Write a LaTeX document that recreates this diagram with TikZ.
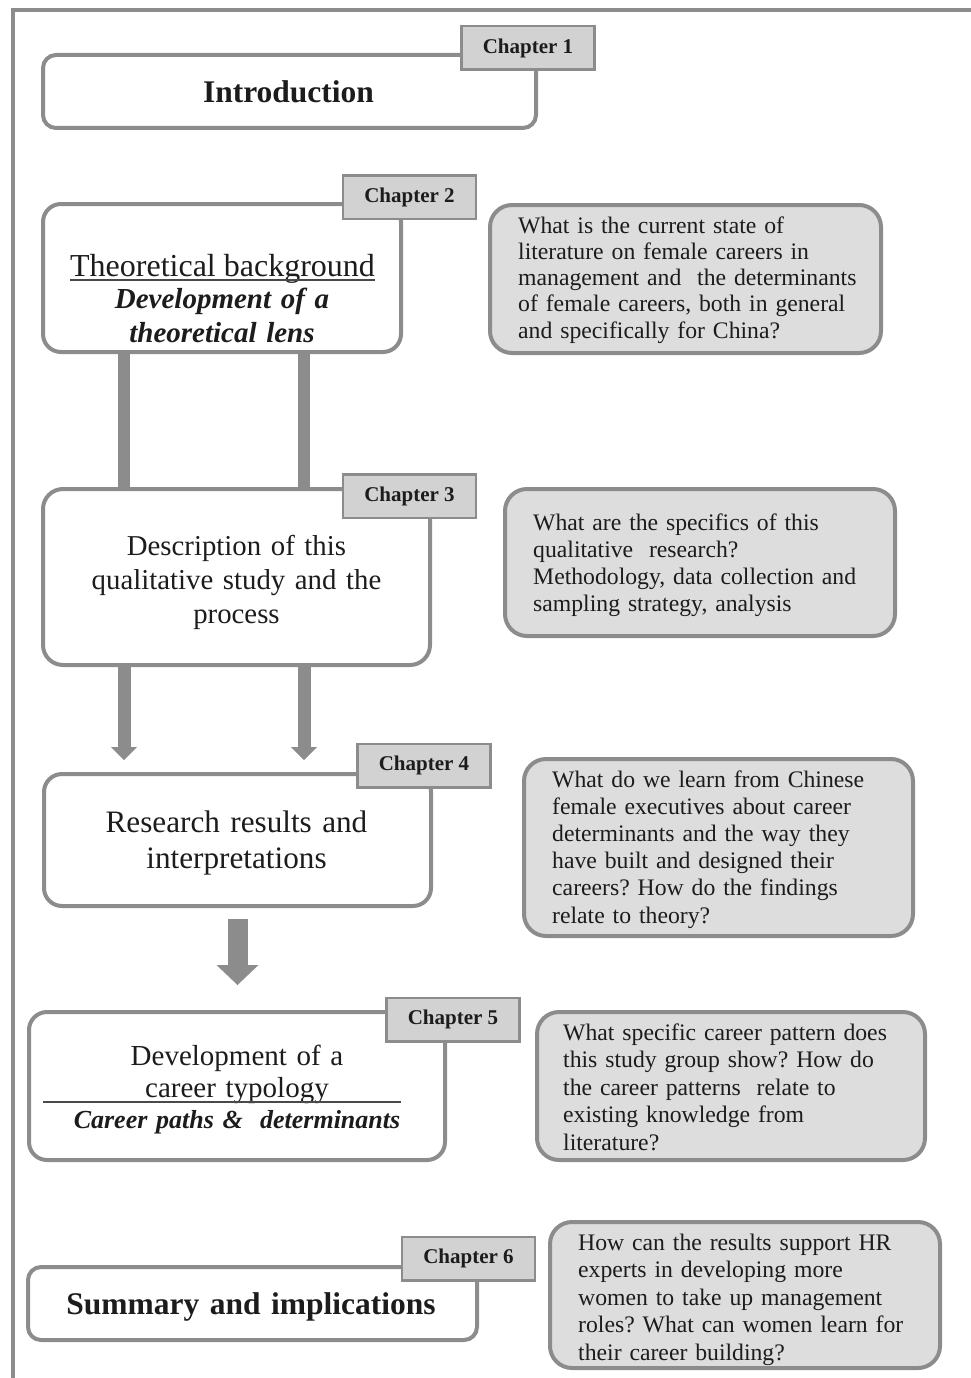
\documentclass[tikz,border=0pt]{standalone}
\usepackage{fontspec}
\setmainfont{Liberation Serif}
\usetikzlibrary{arrows.meta}
\definecolor{linegray}{HTML}{8C8C8C}
\definecolor{labelfill}{HTML}{D2D2D2}
\definecolor{qfill}{HTML}{DDDDDD}
\definecolor{ink}{HTML}{1C1C1C}
\frenchspacing
\tikzset{
  chapbox/.style={draw=linegray, line width=4pt, fill=white, rounded corners=18pt, inner sep=0pt},
  qbox/.style={draw=linegray, line width=4pt, fill=qfill, rounded corners=22pt, inner sep=0pt},
  chaplabel/.style={draw=linegray, line width=2.5pt, fill=labelfill, inner sep=0pt,
    minimum width=133pt, minimum height=43.5pt, text=ink,
    font=\fontsize{21}{24}\selectfont\bfseries},
  qtext/.style={anchor=base west, inner sep=0pt, text width=380pt, align=left, text=ink},
  maintext/.style={anchor=base, inner sep=0pt, text width=420pt, align=center, text=ink},
  frameline/.style={draw=linegray, line width=4.5pt},
  bar/.style={draw=linegray, line width=12pt},
  smallarrow/.style={draw=linegray, line width=13pt,
    -{Triangle[width=26pt,length=13pt,line width=0pt]}},
  bigarrow/.style={draw=linegray, line width=20pt,
    -{Triangle[width=42pt,length=20pt,line width=0pt]}},
  underrule/.style={draw=ink!80, line width=1.3pt},
}
\begin{document}
\begin{tikzpicture}[x=1pt,y=-1pt]
\useasboundingbox (0,0) rectangle (971,1378);
\draw[frameline] (13,1378) -- (13,10) -- (975,10);

% main boxes
\node[chapbox, rounded corners=13pt, minimum width=493pt, minimum height=73pt] (b1) at (289.5,91.5) {};
\node[chapbox, minimum width=358pt, minimum height=148pt] (b2) at (222,278) {};
\node[chapbox, rounded corners=20pt, minimum width=387pt, minimum height=176pt] (b3) at (236.5,577) {};
\node[chapbox, minimum width=387pt, minimum height=132pt] (b4) at (237.5,840) {};
\node[chapbox, minimum width=416pt, minimum height=148pt] (b5) at (237,1086) {};
\node[chapbox, rounded corners=13pt, minimum width=449pt, minimum height=73pt] (b6) at (252.5,1303.5) {};

% connectors
\draw[bar] ([xshift=83pt]b2.south west) -- ([xshift=83pt]b2.south west |- b3.north);
\draw[bar] ([xshift=263pt]b2.south west) -- ([xshift=263pt]b2.south west |- b3.north);
\draw[smallarrow, shorten >=12pt] ([xshift=83pt]b3.south west) -- ([xshift=83pt]b3.south west |- b4.north);
\draw[smallarrow, shorten >=12pt] ([xshift=263pt]b3.south west) -- ([xshift=263pt]b3.south west |- b4.north);
\draw[bigarrow, shorten <=11pt, shorten >=25pt] (b4.south) -- (b4.south |- b5.north);

% chapter labels
\node[chaplabel] (l1) at (528,48) {Chapter 1};
\node[chaplabel] (l2) at (409.5,197) {Chapter 2};
\node[chaplabel] (l3) at (409.5,496) {Chapter 3};
\node[chaplabel] (l4) at (424,765.5) {Chapter 4};
\node[chaplabel] (l5) at (453,1019.5) {Chapter 5};
\node[chaplabel] (l6) at (468.5,1258.5) {Chapter 6};

% main texts
\node[maintext, font=\fontsize{31.5}{36}\selectfont\bfseries] (t1) at (288.5,103) {Introduction};
\node[anchor=base, inner sep=0pt, text=ink, font=\fontsize{32}{36}\selectfont] (t2a) at (222.5,276) {Theoretical background};
\draw[underrule] ([yshift=-4pt]t2a.base west) -- ([yshift=-4pt]t2a.base east);
\node[maintext, font=\fontsize{29}{34}\selectfont\bfseries\itshape] (t2b) at (222,308) {Development of a\\theoretical lens};
\node[maintext, font=\fontsize{28.8}{34}\selectfont] (t3) at (236.5,555) {Description of this\\qualitative study and the\\process};
\node[maintext, font=\fontsize{31.2}{36}\selectfont] (t4) at (236.5,832) {Research results and\\interpretations};
\node[maintext, font=\fontsize{29}{32}\selectfont] (t5a) at (237,1065) {Development of a\\career typology};
\draw[underrule] (43,1102) -- (401,1102);
\node[maintext, font=\fontsize{26}{30}\selectfont\bfseries\itshape] (t5b) at (237,1128) {Career paths \&\ \ determinants};
\node[maintext, font=\fontsize{31.5}{36}\selectfont\bfseries] (t6) at (251,1314) {Summary and implications};

% question boxes
\node[qbox, minimum width=391pt, minimum height=148pt] (q1) at (685.5,279) {};
\node[qbox, minimum width=390pt, minimum height=147pt] (q2) at (700,562.5) {};
\node[qbox, minimum width=389pt, minimum height=177pt] (q3) at (718.5,847.5) {};
\node[qbox, minimum width=388pt, minimum height=148pt] (q4) at (731,1086) {};
\node[qbox, minimum width=390pt, minimum height=146pt] (q5) at (745,1295) {};

\node[qtext, font=\fontsize{23.7}{26.3}\selectfont] (q1t) at (518,233) {What is the current state of\\literature on female careers in\\management and\ \ the determinants\\of female careers, both in general\\and specifically for China?};
\node[qtext, font=\fontsize{23.7}{27}\selectfont] (q2t) at (533,530) {What are the specifics of this\\qualitative\ \ research?\\Methodology, data collection and\\sampling strategy, analysis};
\node[qtext, font=\fontsize{23.7}{27.2}\selectfont] (q3t) at (552,787) {What do we learn from Chinese\\female executives about career\\determinants and the way they\\have built and designed their\\careers? How do the findings\\relate to theory?};
\node[qtext, font=\fontsize{23.7}{27.5}\selectfont] (q4t) at (563,1040) {What specific career pattern does\\this study group show? How do\\the career patterns\ \ relate to\\existing knowledge from\\literature?};
\node[qtext, font=\fontsize{23.7}{27.5}\selectfont] (q5t) at (578,1250) {How can the results support HR\\experts in developing more\\women to take up management\\roles? What can women learn for\\their career building?};
\end{tikzpicture}
\end{document}
